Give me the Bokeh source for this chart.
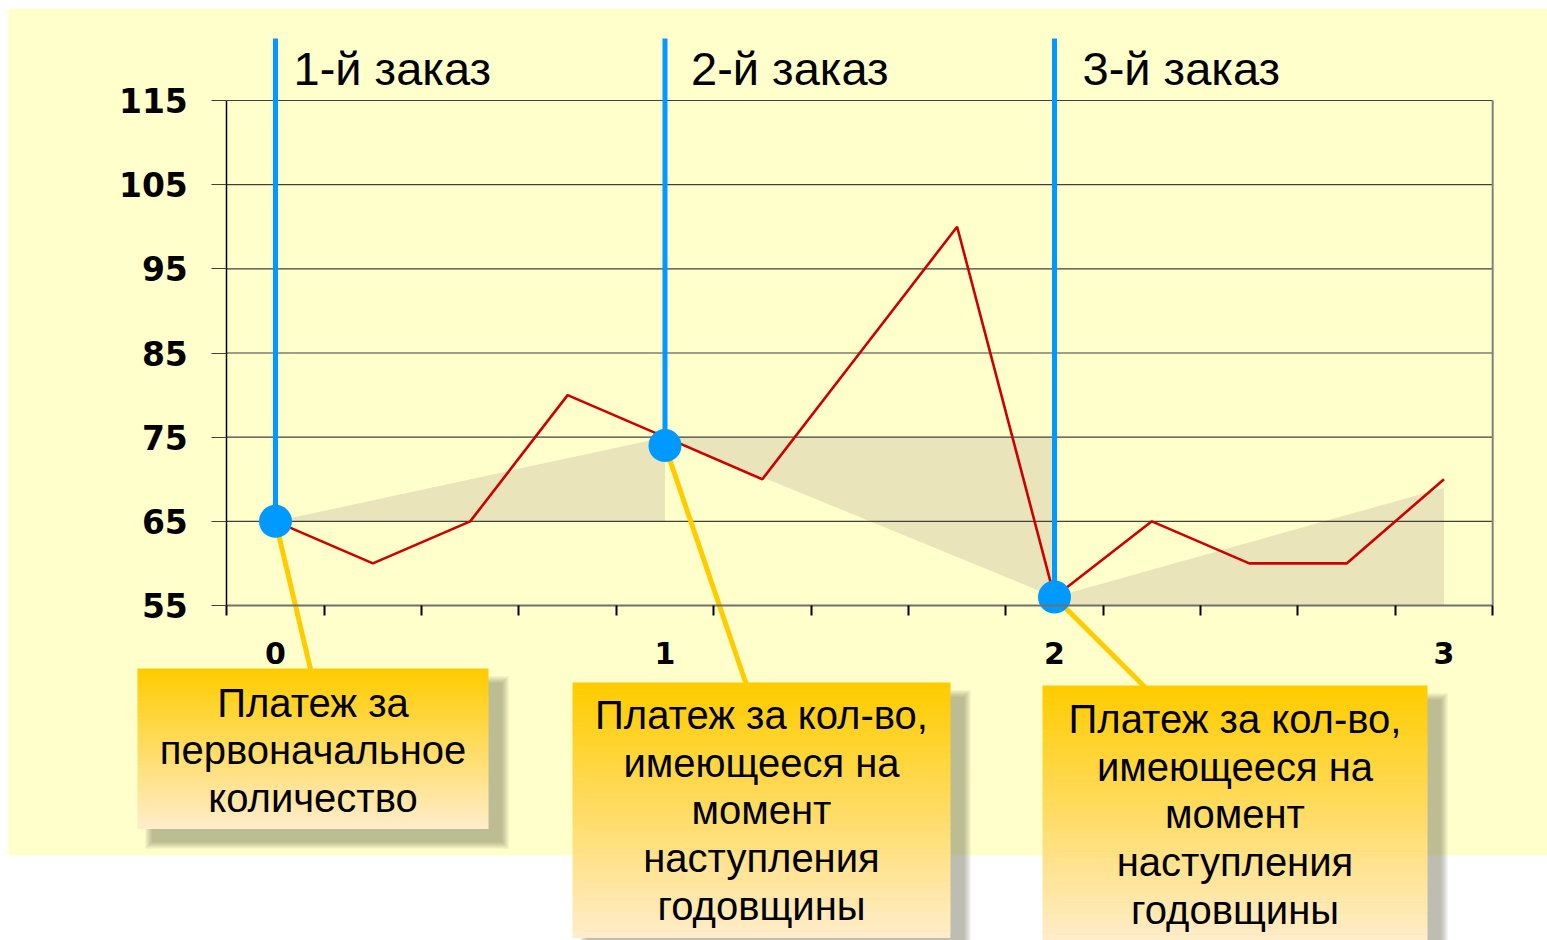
from bokeh.plotting import figure
from bokeh.models import Range1d, LinearAxis, FixedTicker
from bokeh.core.properties import value
from bokeh.embed import file_html
from bokeh.resources import INLINE

# ---------------- data ----------------
periods = [0, 0.25, 0.5, 0.75, 1, 1.25, 1.5, 1.75, 2, 2.25, 2.5, 2.75, 3]
inventory = [65, 60, 65, 80, 75, 70, 85, 100, 56, 65, 60, 60, 70]

order_x = [0, 1, 2]
order_y = [65, 74, 56]
order_titles = ["1-й заказ", "2-й заказ", "3-й заказ"]

payment_x = [[0, 1, 1], [1, 2, 2], [2, 3, 3, 2]]
payment_y = [[65, 75, 65], [75, 75, 56], [56, 69, 55, 55]]

box_texts = [
    "Платеж за\nпервоначальное\nколичество",
    "Платеж за кол-во,\nимеющееся на\nмомент\nнаступления\nгодовщины",
    "Платеж за кол-во,\nимеющееся на\nмомент\nнаступления\nгодовщины",
]

y_ticks = [55, 65, 75, 85, 95, 105, 115]
x_ticks = [0, 1, 2, 3]
x_minor_ticks = [-0.125, 0.125, 0.375, 0.625, 0.875, 1.125, 1.375, 1.625,
                 1.875, 2.125, 2.375, 2.625, 2.875, 3.125]

# ---------------- layout helpers (canvas pixels -> data) ----------------
W, H = 1547, 940
PX0, PXS = 275.0, 389.5          # px of x=0, px per x unit
PY0, PYS = 605.0, 505.0 / 60.0   # px of y=55, px per y unit


def dx(px):
    return (px - PX0) / PXS


def dy(py):
    return 55 + (PY0 - py) / PYS


x_lo, x_hi = -0.125, 3.125
y_lo, y_hi = 55, 115

p = figure(width=W, height=H,
           x_range=Range1d(dx(0), dx(W)), y_range=Range1d(dy(H), dy(0)),
           output_backend="svg", toolbar_location=None,
           x_axis_location=None, y_axis_location=None,
           min_border=0, outline_line_color=None,
           background_fill_color="white", border_fill_color="white")
for g in p.grid:
    g.visible = False

# slide background
p.quad(left=dx(8), right=dx(W), top=dy(8), bottom=dy(855),
       fill_color="#FFFFCC", line_color=None)

# payment areas
p.patches(payment_x, payment_y, fill_color="#EAE4BA", line_color=None)

# grid lines
p.segment(x0=[x_lo] * len(y_ticks), y0=y_ticks, x1=[x_hi] * len(y_ticks), y1=y_ticks,
          line_color="#404040", line_width=1.2)
p.segment(x0=[x_hi], y0=[y_lo], x1=[x_hi], y1=[y_hi], line_color="#808080", line_width=2)

# inventory line
p.line(periods, inventory, line_color="#CC0000", line_width=2.6)

# connectors from order points to boxes
conn_dx = [0.103, 0.214, 0.241]
conn_end_y = dy(690)
p.segment(x0=order_x, y0=order_y,
          x1=[ox + d for ox, d in zip(order_x, conn_dx)], y1=[conn_end_y] * 3,
          line_color="#FFCC00", line_width=5)

# order vertical lines and points
p.segment(x0=order_x, y0=order_y, x1=order_x, y1=[dy(38)] * 3,
          line_color="#0099FF", line_width=5)
p.scatter(order_x, order_y, size=33, fill_color="#0099FF", line_color=None)

# order titles
p.text(x=order_x, y=[dy(68)] * 3, text=order_titles, x_offset=[18, 26, 28],
       text_baseline="middle", text_align="left",
       text_font=value("Liberation Sans"), text_font_size="47px", text_color="black")

# annotation boxes (pixel rectangles)
boxes_px = [(137, 668, 488, 828), (572, 682, 950, 937), (1042, 685, 1427, 940)]
text_centers_py = [750, 810, 814]

for (l, t, r, b), txt, tcy in zip(boxes_px, box_texts, text_centers_py):
    # soft shadow
    for k in range(4):
        e = (3 - k) * 2
        p.quad(left=dx(l + 14 - e), right=dx(r + 14 + e), top=dy(t + 14 - e), bottom=dy(b + 14 + e),
               fill_color="#707058", fill_alpha=0.14, line_color=None)
    # gradient fill
    n = 40
    c0 = (255, 204, 0)
    c1 = (255, 236, 200)
    lefts, rights, tops, bottoms, cols = [], [], [], [], []
    for i in range(n):
        f = i / (n - 1)
        col = "#%02x%02x%02x" % tuple(int(round(a + (bb - a) * f)) for a, bb in zip(c0, c1))
        y_top = t + (b - t) * i / n
        y_bot = t + (b - t) * (i + 1) / n + 0.6
        lefts.append(dx(l)); rights.append(dx(r))
        tops.append(dy(y_top)); bottoms.append(dy(y_bot)); cols.append(col)
    p.quad(left=lefts, right=rights, top=tops, bottom=bottoms, fill_color=cols, line_color=None)
    p.text(x=[dx((l + r) / 2)], y=[dy(tcy)], text=[txt],
           text_align="center", text_baseline="middle", text_line_height=1.08,
           text_font=value("Liberation Sans"), text_font_size="40px", text_color="black")

# axes (fixed inside the frame)
yaxis = LinearAxis(fixed_location=x_lo, bounds=(y_lo, y_hi),
                   ticker=FixedTicker(ticks=y_ticks, minor_ticks=[]),
                   major_tick_out=15, major_tick_in=0, minor_tick_out=0, minor_tick_in=0,
                   axis_line_color="black", axis_line_width=1.5,
                   major_tick_line_color="#404040", major_tick_line_width=1.2,
                   major_label_standoff=24,
                   major_label_text_font="DejaVu Sans", major_label_text_font_style="bold",
                   major_label_text_font_size="33px", major_label_text_color="black")
p.add_layout(yaxis, "left")

xaxis = LinearAxis(fixed_location=y_lo, bounds=(x_lo, x_hi),
                   ticker=FixedTicker(ticks=x_ticks, minor_ticks=x_minor_ticks),
                   major_tick_out=0, major_tick_in=0, minor_tick_out=10, minor_tick_in=0,
                   axis_line_color="#707070", axis_line_width=2,
                   minor_tick_line_color="black", minor_tick_line_width=2,
                   major_label_standoff=26,
                   major_label_text_font="DejaVu Sans", major_label_text_font_style="bold",
                   major_label_text_font_size="30px", major_label_text_color="black")
p.add_layout(xaxis, "below")

open("out.html", "w").write(file_html(p, INLINE))
